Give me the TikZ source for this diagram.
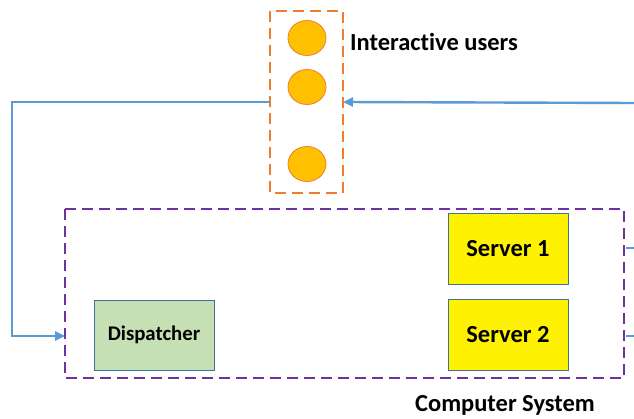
\documentclass[tikz,border=0pt]{standalone}
\usepackage{fontspec}
\setmainfont[Ligatures={NoCommon,NoRare}]{Carlito}
\usetikzlibrary{arrows.meta,shapes.geometric}
\definecolor{borange}{HTML}{ED7D31}
\definecolor{uyellow}{HTML}{FFC000}
\definecolor{lblue}{HTML}{5B9BD5}
\definecolor{purp}{HTML}{7030A0}
\definecolor{lgreen}{HTML}{C5E0B4}
\definecolor{bgrey}{HTML}{41719C}
\tikzset{
  user/.style={ellipse, draw=borange, fill=uyellow, line width=0.8pt, minimum width=38pt, minimum height=35pt, inner sep=0pt},
  srv/.style={draw=bgrey, line width=0.8pt, fill=yellow, minimum width=120pt, minimum height=71pt, font=\bfseries\fontsize{24.5}{28}\selectfont, inner sep=0pt},
  disp/.style={draw=bgrey, line width=0.8pt, fill=lgreen, minimum width=120pt, minimum height=70pt, font=\bfseries\fontsize{20.8}{24}\selectfont, inner sep=0pt},
  conn/.style={draw=lblue, line width=2.4pt},
  lbl/.style={font=\bfseries\fontsize{24.5}{28}\selectfont, inner sep=0pt}
}
\begin{document}
\begin{tikzpicture}[x=1pt,y=-1pt]
\useasboundingbox (0,0) rectangle (634,419);
% orange users box
\draw[borange, line width=2.4pt, dash pattern=on 11pt off 6pt] (270,11) rectangle (343,193);
\coordinate (ul) at (270,102);
\coordinate (ur) at (343,102);
\node[user] (u1) at (307,38) {};
\node[user] (u2) at (307,87) {};
\node[user] (u3) at (307,164) {};
\node[lbl, anchor=west] (ilbl) at (350,42) {Interactive users};
% computer system
\draw[purp, line width=2.4pt, dash pattern=on 11pt off 6pt] (65,209) rectangle (624,378);
\coordinate (csl) at (65,336);
\node[lbl, anchor=center] (clbl) at (505,405) {Computer System};
\node[disp] (disp) at (154,335) {Dispatcher};
\node[srv] (s1) at (508,248.5) {Server 1};
\node[srv] (s2) at (508,335) {Server 2};
% connectors
\coordinate (lc1) at (12,102);
\coordinate (lc2) at (12,336);
\draw[conn, -{Triangle[length=10pt,width=9pt]}] (ul) -- (lc1) -- (lc2) -- (csl);
\coordinate (rin) at (634,103);
\draw[conn, -{Triangle[length=10pt,width=9pt]}] (rin) -- (ur);
\coordinate (st1a) at (626,248);
\coordinate (st1b) at (634,248);
\coordinate (st2a) at (626,336);
\coordinate (st2b) at (634,336);
\draw[conn] (st1a) -- (st1b);
\draw[conn] (st2a) -- (st2b);
\end{tikzpicture}
\end{document}
